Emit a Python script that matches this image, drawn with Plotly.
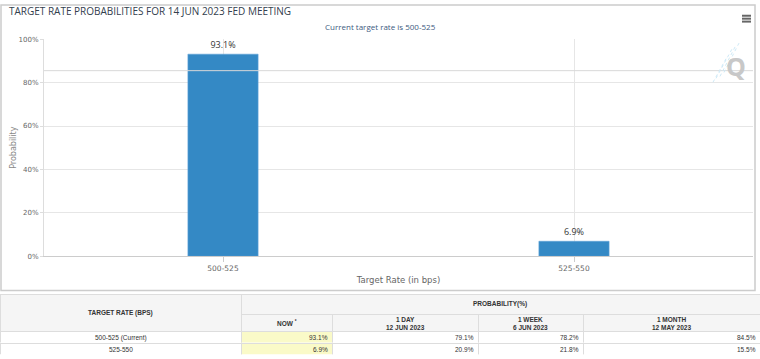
import plotly.graph_objects as go

# ---- data ----
categories = ["500-525", "525-550"]
probabilities = [93.1, 6.9]
reference_level = 85.5
y_ticks = [0, 20, 40, 60, 80, 100]
y_tick_labels = ["0%", "20%", "40%", "60%", "80%", "100%"]

table_rates = ["500-525 (Current)", "525-550"]
table_now = ["93.1%", "6.9%"]
table_1day = ["79.1%", "20.9%"]
table_1week = ["78.2%", "21.8%"]
table_1month = ["84.5%", "15.5%"]
sub_headers = ["NOW <sup>*</sup>", "1 DAY<br>12 JUN 2023",
               "1 WEEK<br>6 JUN 2023", "1 MONTH<br>12 MAY 2023"]

W, H = 760, 359


def py(pix):  # pixel row -> paper y
    return 1 - pix / H


def px(pix):
    return pix / W


fig = go.Figure()

fig.add_trace(go.Bar(
    x=categories, y=probabilities, width=0.2,
    marker=dict(color="#3489c5", line=dict(color="#5fa3d6", width=0.6)),
    texttemplate="%{y:.1f}%", textposition="outside",
    textfont=dict(size=9, color="#333333", family="Open Sans"),
    cliponaxis=False, hoverinfo="skip", showlegend=False,
))

tbl_font = dict(family="Arial, Liberation Sans", size=6.5, color="#333333")
line = dict(color="#dddddd", width=1)
T0, T1, T2 = 297, 318, 335  # table header row boundaries (px)
ROW_H = 12
col_widths = [241, 91, 146, 105, 177]
sub_widths = col_widths[1:]

# header boxes
fig.add_trace(go.Table(
    domain=dict(x=[0, px(241)], y=[py(T2), py(T0)]),
    columnwidth=[241],
    header=dict(values=[""], height=T2 - T0, fill_color="#f5f5f5", line=line, font=tbl_font),
    cells=dict(values=[[]]),
))
fig.add_trace(go.Table(
    domain=dict(x=[px(241), 1], y=[py(T1), py(T0)]),
    columnwidth=[519],
    header=dict(values=[""], height=T1 - T0, fill_color="#f5f5f5", line=line, font=tbl_font),
    cells=dict(values=[[]]),
))
fig.add_trace(go.Table(
    domain=dict(x=[px(241), 1], y=[py(T2), py(T1)]),
    columnwidth=sub_widths,
    header=dict(values=[""] * 4, height=T2 - T1, fill_color="#f5f5f5", line=line, font=tbl_font),
    cells=dict(values=[[], [], [], []]),
))

# data row boxes + texts
row_fill = ["white", "#fafac8", "white", "white", "white"]
columns = [table_rates, table_now, table_1day, table_1week, table_1month]
for i in range(len(table_rates)):
    top = T2 + i * ROW_H
    bottom = min(top + ROW_H, H)
    fig.add_trace(go.Table(
        domain=dict(x=[0, 1], y=[py(bottom), py(top)]),
        columnwidth=col_widths,
        header=dict(values=[""] * 5, height=bottom - top, line=line, font=tbl_font, fill_color=row_fill),
        cells=dict(values=[[], [], [], [], []]),
    ))
    left = 0
    for j, (col, wdt) in enumerate(zip(columns, col_widths)):
        if j == 0:
            xx, anchor = left + wdt / 2, "center"
        else:
            xx, anchor = left + wdt - 2.5, "right"
        fig.add_annotation(text=col[i], xref="paper", yref="paper",
                           x=px(xx), y=py(top + 6.5), xanchor=anchor, yanchor="middle",
                           showarrow=False, font=tbl_font)
        left += wdt

# header texts
hdr_font = dict(family="Arial, Liberation Sans", size=6.5, color="#333333")
fig.add_annotation(text="<b>TARGET RATE (BPS)</b>", xref="paper", yref="paper",
                   x=px(120.5), y=py(316.5), xanchor="center", yanchor="middle",
                   showarrow=False, font=hdr_font)
fig.add_annotation(text="<b>PROBABILITY(%)</b>", xref="paper", yref="paper",
                   x=px(500), y=py(306.5), xanchor="center", yanchor="middle",
                   showarrow=False, font=hdr_font)
left = 241
for label, wdt in zip(sub_headers, sub_widths):
    fig.add_annotation(text="<b>" + label + "</b>", xref="paper", yref="paper",
                       x=px(left + wdt / 2), y=py(326.5), xanchor="center", yanchor="middle",
                       showarrow=False, font=hdr_font, align="center")
    left += wdt

fig.update_layout(
    width=W, height=H,
    margin=dict(l=0, r=0, t=0, b=0),
    paper_bgcolor="white", plot_bgcolor="white",
    font=dict(family="Open Sans", color="#666666"),
    xaxis=dict(domain=[px(44), px(753)], range=[-0.51, 1.51], type="category",
               showgrid=True, gridcolor="#e6e6e6", gridwidth=1,
               showline=True, linecolor="#cccccc", linewidth=1,
               ticks="outside", ticklen=5, tickcolor="#cccccc",
               tickfont=dict(size=7.5, color="#666666", family="DejaVu Sans"),
               title=dict(text="Target Rate (in bps)", standoff=4,
                          font=dict(size=8.5, color="#666666", family="DejaVu Sans"))),
    yaxis=dict(domain=[py(258), py(36)], range=[0, 100],
               tickvals=y_ticks, ticktext=y_tick_labels,
               showgrid=True, gridcolor="#e6e6e6", zeroline=False,
               showline=True, linecolor="#dddddd",
               ticks="outside", ticklen=3, tickcolor="#dddddd",
               tickfont=dict(size=7, color="#666666", family="DejaVu Sans"),
               title=dict(text="Probability", standoff=0,
                          font=dict(size=8, color="#888888", family="DejaVu Sans"))),
    bargap=0.8,
)

shapes = [
    dict(type="rect", xref="paper", yref="paper", x0=px(1), x1=px(755), y0=py(293), y1=py(1),
         line=dict(color="#cccccc", width=1.5), layer="below"),
    dict(type="line", xref="paper", yref="y", x0=px(44), x1=px(753),
         y0=reference_level, y1=reference_level, line=dict(color="#d8d8d8", width=1)),
]
for yy in (12, 15, 18):
    shapes.append(dict(type="line", xref="paper", yref="paper", x0=px(742), x1=px(751),
                       y0=py(yy), y1=py(yy), line=dict(color="#666666", width=2)))
for (x0, y0, x1, y1) in [(716, 76, 732, 46), (720, 74, 736, 42),
                         (713, 80, 726, 56), (724, 70, 739, 40)]:
    shapes.append(dict(type="line", xref="paper", yref="paper", x0=px(x0), x1=px(x1),
                       y0=py(y0), y1=py(y1), line=dict(color="#cfeaf7", width=1, dash="dot")))
fig.update_layout(shapes=shapes)

fig.add_annotation(text="TARGET RATE PROBABILITIES FOR 14 JUN 2023 FED MEETING",
                   xref="paper", yref="paper", x=px(7), y=py(7), xanchor="left", yanchor="middle",
                   showarrow=False, font=dict(size=10, color="#33404d", family="Open Sans"))
fig.add_annotation(text="Current target rate is 500-525",
                   xref="paper", yref="paper", x=px(380), y=py(23), xanchor="center", yanchor="middle",
                   showarrow=False, font=dict(size=8, color="#3d5a80", family="Open Sans"))
fig.add_annotation(text="<b>Q</b>", xref="paper", yref="paper", x=px(736), y=py(63),
                   xanchor="center", yanchor="middle", showarrow=False,
                   font=dict(size=25, color="#c8c8c8", family="Open Sans"))

fig.write_html("out.html", config={"displayModeBar": False},
               post_script="document.body.style.margin='0';document.body.style.overflow='hidden';")
